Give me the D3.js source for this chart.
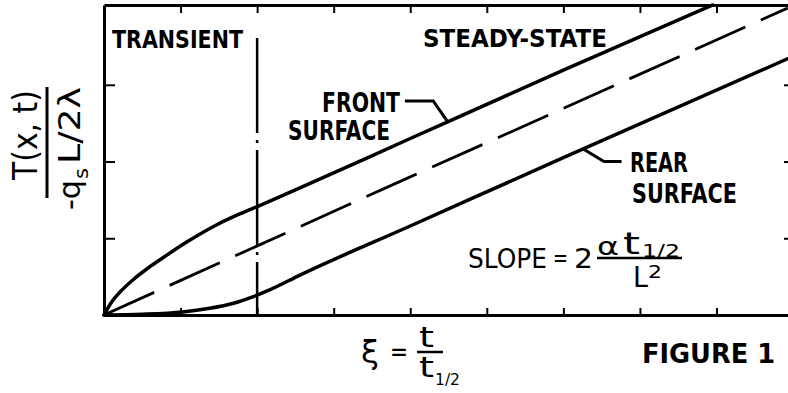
<!DOCTYPE html>
<html><head><meta charset="utf-8">
<script src="https://cdn.jsdelivr.net/npm/d3@7"></script>
<style>body{margin:0;background:#fff}svg{display:block}text{font-family:"DejaVu Sans",sans-serif;fill:#000}</style>
</head><body>
<svg id="c" width="788" height="393"></svg>
<script>
// ---- data ----
const xTicks = [1, 2, 3, 4, 5, 6, 7, 8];
const yTicks = [1, 2, 3];
const transientEnd = 2;
const frontSurface = [[0,0],[0.1,0.17],[0.21,0.3],[0.38,0.46],[0.6,0.63],[0.82,0.78],[1.08,0.95],[1.48,1.18],[1.78,1.32],[2.04,1.43],[2.5,1.63],[4,2.3],[6,3.19],[7.95,4.04]];
const meanTemp = [[0,0],[4,1.8],[8.93,4.0]];
const rearSurface = [[0,0],[0.5,0.01],[1.03,0.04],[1.4,0.09],[1.68,0.15],[1.95,0.24],[2.17,0.33],[2.56,0.52],[4,1.16],[6,2.05],[8.93,3.34]];
const frontLeader = [[4.49, null],[4.3, 2.79],[3.93, 2.79]]; // first point sits on the curve
const rearLeader = [[6.26, null],[6.53, 2.0],[6.76, 2.0]];

const svg = d3.select("#c");
const x = d3.scaleLinear().domain([0, 8.96]).range([104, 790]);
const y = d3.scaleLinear().domain([0, 4.04]).range([315, 5]);

function interp(arr, xv){
  for(let i=1;i<arr.length;i++){ if(xv<=arr[i][0]){const a=arr[i-1],b=arr[i];return a[1]+(b[1]-a[1])*(xv-a[0])/(b[0]-a[0]);} }
  return arr[arr.length-1][1];
}

// axes
const ax = (g)=>g.selectAll("path,line").attr("stroke","#000");
svg.append("g").attr("transform","translate(0,315)")
  .call(d3.axisTop(x).tickValues(xTicks).tickSize(7).tickSizeOuter(0).tickFormat(""))
  .call(ax).call(g=>g.select(".domain").attr("stroke-width",3)).call(g=>g.selectAll("line").attr("stroke-width",2));
svg.append("g").attr("transform","translate(0,5)")
  .call(d3.axisBottom(x).tickValues(xTicks).tickSize(8).tickSizeOuter(0).tickFormat(""))
  .call(ax).call(g=>g.select(".domain").attr("stroke-width",3)).call(g=>g.selectAll("line").attr("stroke-width",2));
svg.append("g").attr("transform","translate(104,0)")
  .call(d3.axisRight(y).tickValues(yTicks).tickSize(11).tickSizeOuter(0).tickFormat(""))
  .call(ax).call(g=>g.select(".domain").attr("stroke-width",3)).call(g=>g.selectAll("line").attr("stroke-width",2));
svg.append("g").attr("transform","translate(790,0)")
  .call(d3.axisLeft(y).tickValues(yTicks).tickSize(6).tickSizeOuter(0).tickFormat(""))
  .call(ax).call(g=>g.select(".domain").attr("stroke-width",3)).call(g=>g.selectAll("line").attr("stroke-width",2));

// transient boundary
svg.append("line").attr("x1",x(transientEnd)).attr("x2",x(transientEnd))
  .attr("y1",y(3.61)).attr("y2",y(0)).attr("stroke","#000").attr("stroke-width",2.5)
  .attr("stroke-dasharray","95,7,3,7");

const line = d3.line().x(d=>x(d[0])).y(d=>y(d[1])).curve(d3.curveMonotoneX);
svg.append("path").attr("d",line(frontSurface)).attr("fill","none").attr("stroke","#000").attr("stroke-width",3.5).attr("stroke-linecap","round");
svg.append("path").attr("d",line(rearSurface)).attr("fill","none").attr("stroke","#000").attr("stroke-width",3.5).attr("stroke-linecap","round");
svg.append("path").attr("d",d3.line().x(d=>x(d[0])).y(d=>y(d[1]))(meanTemp)).attr("fill","none").attr("stroke","#000").attr("stroke-width",2.8).attr("stroke-dasharray","55,17");

// leaders
const fl = frontLeader.map((d,i)=>i===0?[d[0],interp(frontSurface,d[0])]:d);
const rl = rearLeader.map((d,i)=>i===0?[d[0],interp(rearSurface,d[0])]:d);
const ll = d3.line().x(d=>x(d[0])).y(d=>y(d[1]));
svg.append("path").attr("d",ll(fl)).attr("fill","none").attr("stroke","#000").attr("stroke-width",3);
svg.append("path").attr("d",ll(rl)).attr("fill","none").attr("stroke","#000").attr("stroke-width",3);

// labels
function lab(t,x0,yb,size,len,bold){
  return svg.append("text").attr("x",x0).attr("y",yb).attr("font-size",size)
    .attr("font-weight",bold?"bold":"normal").attr("textLength",len).attr("lengthAdjust","spacingAndGlyphs").text(t);
}
lab("TRANSIENT",112,48,24,131,true);
lab("STEADY-STATE",423,47,25,184,true);
lab("FRONT",322,112,26,78,true);
lab("SURFACE",288,140,26,102,true);
lab("REAR",630,172,26,58,true);
lab("SURFACE",632,203,26,105,true);
lab("FIGURE 1",642,363,27,133,true);

// slope formula
lab("SLOPE",468,268,27,79,false);
lab("=",553,266,24,15,false);
lab("2",574,268,27,19,false);
lab("α",597,255,24,22,false);
lab("t",623,254,30,17,false);
lab("1/2",642,257,17,38,false);
svg.append("line").attr("x1",597).attr("x2",682).attr("y1",258).attr("y2",258).attr("stroke","#000").attr("stroke-width",2.5);
lab("L",633,287,29,15,false);
lab("2",648,278,17,14,false);

// xi formula
lab("ξ",361,363,32,18,false);
lab("=",390,361,27,18,false);
lab("t",419,347,28,15,false);
svg.append("line").attr("x1",417).attr("x2",443).attr("y1",352).attr("y2",352).attr("stroke","#000").attr("stroke-width",2.5);
lab("t",419,377,28,15,false);
lab("1/2",435,385,16,25,false);

// y label (rotated)
const yl = svg.append("g").attr("transform","rotate(-90)");
function rl2(t,u,v,size,len){
  return yl.append("text").attr("x",u).attr("y",v).attr("font-size",size).attr("textLength",len).attr("lengthAdjust","spacingAndGlyphs").text(t);
}
rl2("T(x, t)",-180,37,34,90);
svg.append("line").attr("x1",47).attr("x2",47).attr("y1",87).attr("y2",198).attr("stroke","#000").attr("stroke-width",3);
rl2("-q",-210,80,30,30);
rl2("s",-179,88,20,11);
rl2("L/2λ",-164,80,30,77);
</script>
</body></html>
